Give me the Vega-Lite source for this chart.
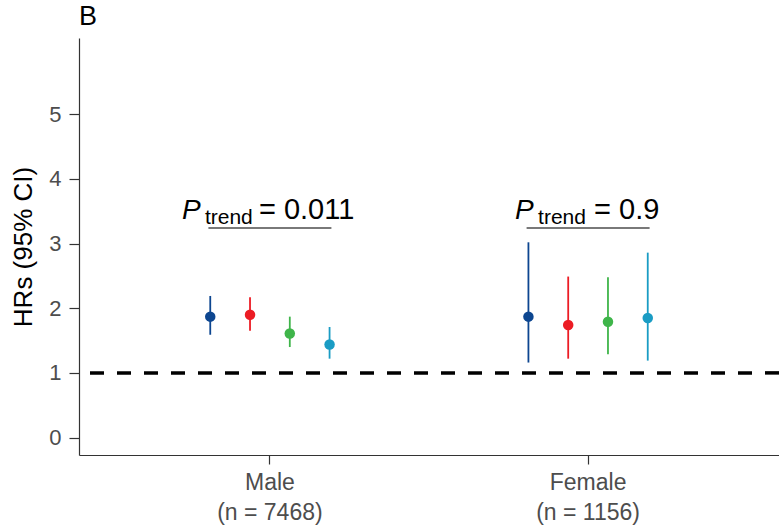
{
  "$schema": "https://vega.github.io/schema/vega-lite/v6.json",
  "width": 700,
  "height": 417,
  "autosize": {"type": "none"},
  "padding": {"left": 79, "top": 38, "right": 0, "bottom": 70},
  "title": {"text": "B", "anchor": "start", "frame": "group", "fontSize": 27, "fontWeight": "normal", "color": "black", "font": "Liberation Sans", "offset": 7},
  "config": {
    "view": {"stroke": null},
    "font": "Liberation Sans",
    "axis": {"grid": false, "domainColor": "#333333", "domainWidth": 1.2, "tickColor": "#333333", "tickWidth": 1.2, "labelColor": "#4d4d4d", "titleColor": "black", "titleFontWeight": "normal", "labelFont": "Liberation Sans", "titleFont": "Liberation Sans"},
    "axisY": {"labelFontSize": 22, "tickSize": 10, "labelPadding": 8, "titlePadding": 12, "titleFontSize": 26},
    "axisX": {"labelFontSize": 23, "tickSize": 9, "labelPadding": 7, "labelLineHeight": 30}
  },
  "datasets": {
    "est": [
      {"sex": "Male", "group": "Q1", "hr": 1.87, "lo": 1.59, "hi": 2.19},
      {"sex": "Male", "group": "Q2", "hr": 1.90, "lo": 1.65, "hi": 2.17},
      {"sex": "Male", "group": "Q3", "hr": 1.61, "lo": 1.40, "hi": 1.87},
      {"sex": "Male", "group": "Q4", "hr": 1.44, "lo": 1.22, "hi": 1.71},
      {"sex": "Female", "group": "Q1", "hr": 1.87, "lo": 1.16, "hi": 3.02},
      {"sex": "Female", "group": "Q2", "hr": 1.74, "lo": 1.22, "hi": 2.49},
      {"sex": "Female", "group": "Q3", "hr": 1.79, "lo": 1.29, "hi": 2.48},
      {"sex": "Female", "group": "Q4", "hr": 1.85, "lo": 1.19, "hi": 2.86}
    ],
    "ann": [
      {"sex": "Male", "p": "= 0.011", "ty": 3.38, "uy": 3.24},
      {"sex": "Female", "p": "= 0.9", "ty": 3.38, "uy": 3.24}
    ],
    "ref": [
      {"ref": 1}
    ]
  },
  "layer": [
    {
      "data": {"name": "est"},
      "mark": {"type": "rule", "strokeWidth": 1.8},
      "encoding": {
        "x": {"field": "sex", "type": "nominal", "sort": ["Male", "Female"],
              "scale": {"type": "band", "domain": ["Male", "Female"], "paddingInner": 0.5, "paddingOuter": 0.35},
              "axis": {"title": null, "labelAngle": 0,
                       "labelExpr": "datum.value == 'Male' ? ['Male', '(n = 7468)'] : ['Female', '(n = 1156)']"}},
        "xOffset": {"field": "group", "type": "nominal", "scale": {"domain": ["Q1", "Q2", "Q3", "Q4"], "paddingInner": 0, "paddingOuter": 0}},
        "y": {"field": "lo", "type": "quantitative",
              "scale": {"domain": [-0.27, 6.18], "nice": false, "zero": false},
              "axis": {"title": "HRs (95% CI)", "values": [0, 1, 2, 3, 4, 5], "format": "d"}},
        "y2": {"field": "hi"},
        "color": {"field": "group", "type": "nominal", "scale": {"domain": ["Q1", "Q2", "Q3", "Q4"], "range": ["#0d4690", "#ec1c24", "#3fb54a", "#1a9cc4"]}, "legend": null}
      }
    },
    {
      "data": {"name": "est"},
      "mark": {"type": "point", "filled": true, "size": 110, "opacity": 1},
      "encoding": {
        "x": {"field": "sex", "type": "nominal", "sort": ["Male", "Female"]},
        "xOffset": {"field": "group", "type": "nominal"},
        "y": {"field": "hr", "type": "quantitative"},
        "color": {"field": "group", "type": "nominal", "legend": null}
      }
    },
    {
      "data": {"name": "ref"},
      "mark": {"type": "rule", "strokeDash": [14, 13], "strokeWidth": 3.5, "color": "black"},
      "encoding": {"y": {"field": "ref", "type": "quantitative"}}
    },
    {
      "data": {"name": "ann"},
      "mark": {"type": "tick", "size": 123, "thickness": 1.5, "color": "black", "orient": "horizontal"},
      "encoding": {
        "x": {"field": "sex", "type": "nominal", "sort": ["Male", "Female"]},
        "y": {"field": "uy", "type": "quantitative"}
      }
    },
    {
      "data": {"name": "ann"},
      "transform": [{"filter": "datum.sex == 'Male'"}],
      "layer": [
        {"mark": {"type": "text", "text": "P", "fontStyle": "italic", "fontSize": 28, "align": "left", "baseline": "alphabetic", "dx": -88, "color": "black"}},
        {"mark": {"type": "text", "text": "trend", "fontSize": 21, "align": "left", "baseline": "alphabetic", "dx": -65, "dy": 5, "color": "black"}},
        {"mark": {"type": "text", "fontSize": 29, "align": "left", "baseline": "alphabetic", "dx": -11, "color": "black"}, "encoding": {"text": {"field": "p"}}}
      ],
      "encoding": {
        "x": {"field": "sex", "type": "nominal", "sort": ["Male", "Female"]},
        "y": {"field": "ty", "type": "quantitative"}
      }
    },
    {
      "data": {"name": "ann"},
      "transform": [{"filter": "datum.sex == 'Female'"}],
      "layer": [
        {"mark": {"type": "text", "text": "P", "fontStyle": "italic", "fontSize": 28, "align": "left", "baseline": "alphabetic", "dx": -73, "color": "black"}},
        {"mark": {"type": "text", "text": "trend", "fontSize": 21, "align": "left", "baseline": "alphabetic", "dx": -50, "dy": 5, "color": "black"}},
        {"mark": {"type": "text", "fontSize": 29, "align": "left", "baseline": "alphabetic", "dx": 6, "color": "black"}, "encoding": {"text": {"field": "p"}}}
      ],
      "encoding": {
        "x": {"field": "sex", "type": "nominal", "sort": ["Male", "Female"]},
        "y": {"field": "ty", "type": "quantitative"}
      }
    }
  ]
}
